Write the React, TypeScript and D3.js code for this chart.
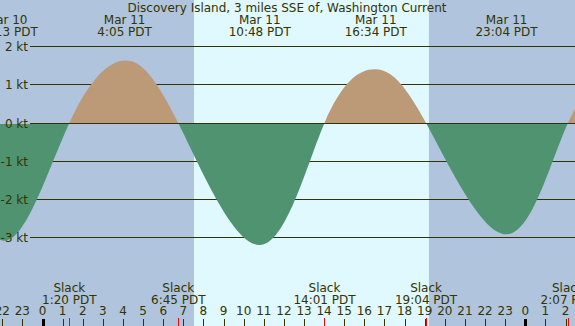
import React, { useEffect, useRef } from "react";
import * as d3 from "d3";

// hours are counted from Mar 11 00:00 PDT
const eventHours = [-4.85, -1.783, 1.333, 4.083, 6.75, 10.8, 14.017, 16.567, 19.067, 23.067, 26.117, 28.8];
const eventKnots = [0, -3.08, 0, 1.64, 0, -3.2, 0, 1.41, 0, -2.92, 0, 1.5];

const maxHours = [-1.783, 4.083, 10.8, 16.567, 23.067];
const maxDays = ["Mar 10", "Mar 11", "Mar 11", "Mar 11", "Mar 11"];
const maxLabels = ["22:13 PDT", "4:05 PDT", "10:48 PDT", "16:34 PDT", "23:04 PDT"];

const slackHours = [1.333, 6.75, 14.017, 19.067, 26.117];
const slackLabels = ["1:20 PDT", "6:45 PDT", "14:01 PDT", "19:04 PDT", "2:07 PDT"];

const sunrise = 7.53;
const sunset = 19.21;

const knotTicks = [2, 1, 0, -1, -2, -3];
const hourTicks = d3.range(-2, 27);

const title = "Discovery Island, 3 miles SSE of, Washington Current";

const App = () => {
  const svgRef = useRef(null);

  useEffect(() => {
    const width = 575;
    const height = 326;
    const ink = "#333300";
    const font = "DejaVu Sans";

    const xScale = d3.scaleLinear().domain([0, 24]).range([42.5, 525.3]);
    const yScale = d3.scaleLinear().domain([-3, 2]).range([237.4, 46.8]);
    const zeroY = Math.floor(yScale(0));

    const svg = d3.select(svgRef.current);
    svg.selectAll("*").remove();
    svg.attr("width", width).attr("height", height);

    // night / day background
    svg.append("rect").attr("width", width).attr("height", height).attr("fill", "#B0C4DE");
    svg
      .append("rect")
      .attr("x", xScale(sunrise))
      .attr("width", xScale(sunset) - xScale(sunrise))
      .attr("height", height)
      .attr("fill", "#E0F8FF");

    // grid lines
    svg
      .selectAll(".grid")
      .data(knotTicks)
      .enter()
      .append("line")
      .attr("x1", 30)
      .attr("x2", width)
      .attr("y1", (d) => Math.floor(yScale(d)) + 0.5)
      .attr("y2", (d) => Math.floor(yScale(d)) + 0.5)
      .attr("stroke", ink)
      .attr("stroke-width", 1);

    // current curve
    const points = eventHours.map((h, i) => [h, eventKnots[i]]);
    const area = d3
      .area()
      .x((d) => xScale(d[0]))
      .y0(yScale(0))
      .y1((d) => yScale(d[1]))
      .curve(d3.curveNatural);

    const defs = svg.append("defs");
    defs
      .append("clipPath")
      .attr("id", "flood")
      .append("rect")
      .attr("width", width)
      .attr("height", zeroY);
    defs
      .append("clipPath")
      .attr("id", "ebb")
      .append("rect")
      .attr("y", zeroY + 1)
      .attr("width", width)
      .attr("height", height);

    svg
      .append("path")
      .datum(points)
      .attr("d", area)
      .attr("fill", "#BC9A78")
      .attr("clip-path", "url(#flood)");
    svg
      .append("path")
      .datum(points)
      .attr("d", area)
      .attr("fill", "#4F9370")
      .attr("clip-path", "url(#ebb)");

    // knot labels sit on top of the fill
    svg
      .selectAll(".klabel")
      .data(knotTicks)
      .enter()
      .append("text")
      .attr("x", 28)
      .attr("y", (d) => Math.floor(yScale(d)) + 4.5)
      .attr("text-anchor", "end")
      .style("font-family", font)
      .style("font-size", "12px")
      .style("fill", ink)
      .text((d) => `${d} kt`);

    // title and max current labels
    svg
      .append("text")
      .attr("x", 287)
      .attr("y", 12)
      .attr("text-anchor", "middle")
      .style("font-family", font)
      .style("font-size", "12px")
      .style("fill", ink)
      .text(title);

    const maxG = svg
      .selectAll(".max")
      .data(maxHours)
      .enter()
      .append("g")
      .attr("transform", (d) => `translate(${xScale(d)},0)`);
    maxG
      .append("text")
      .attr("y", 24)
      .attr("text-anchor", "middle")
      .style("font-family", font)
      .style("font-size", "12px")
      .style("fill", ink)
      .text((_, i) => maxDays[i]);
    maxG
      .append("text")
      .attr("y", 36)
      .attr("text-anchor", "middle")
      .style("font-family", font)
      .style("font-size", "12px")
      .style("fill", ink)
      .text((_, i) => maxLabels[i]);

    // slack labels
    const slackG = svg
      .selectAll(".slack")
      .data(slackHours)
      .enter()
      .append("g")
      .attr("transform", (d) => `translate(${xScale(d)},0)`);
    slackG
      .append("text")
      .attr("y", 292)
      .attr("text-anchor", "middle")
      .style("font-family", font)
      .style("font-size", "12px")
      .style("fill", ink)
      .text("Slack");
    slackG
      .append("text")
      .attr("y", 304)
      .attr("text-anchor", "middle")
      .style("font-family", font)
      .style("font-size", "12px")
      .style("fill", ink)
      .text((_, i) => slackLabels[i]);

    // hour axis
    svg
      .selectAll(".hlabel")
      .data(hourTicks)
      .enter()
      .append("text")
      .attr("x", (d) => xScale(d))
      .attr("y", 315)
      .attr("text-anchor", "middle")
      .style("font-family", font)
      .style("font-size", "12px")
      .style("fill", ink)
      .text((d) => ((d % 24) + 24) % 24);

    svg
      .selectAll(".htick")
      .data(hourTicks)
      .enter()
      .append("rect")
      .attr("x", (d) => (d % 24 === 0 ? Math.round(xScale(d)) - 1 : Math.round(xScale(d))))
      .attr("y", 319)
      .attr("width", (d) => (d % 24 === 0 ? 3 : 1))
      .attr("height", 7)
      .attr("fill", (d) => (d % 24 === 0 ? "#000000" : ink));

    svg
      .selectAll(".stick")
      .data(slackHours)
      .enter()
      .append("rect")
      .attr("x", (d) => Math.round(xScale(d)))
      .attr("y", 318)
      .attr("width", 1)
      .attr("height", 8)
      .attr("fill", "#FF0000");
  }, []);

  return (
    <div style={{ position: "absolute", left: 0, top: 0 }}>
      <svg ref={svgRef} style={{ display: "block" }}></svg>
    </div>
  );
};

export default App;
